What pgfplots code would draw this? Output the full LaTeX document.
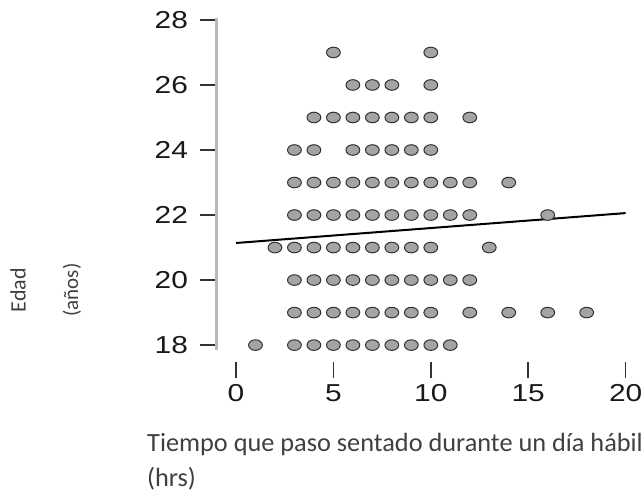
\documentclass[border=0pt]{standalone}
\usepackage{pgfplots}
\pgfplotsset{compat=1.18}
\usepackage{fontspec}
\usepackage{graphicx}
\setmainfont{Liberation Sans}
\newfontfamily\calib{Carlito}
\definecolor{dotfill}{HTML}{A4A4A4}
\definecolor{dotdraw}{HTML}{333333}
\definecolor{axgray}{HTML}{B8B8B8}
\definecolor{txt}{HTML}{404040}
\newcommand{\tl}[1]{\scalebox{1.22}[1]{#1}}
\begin{document}
\begin{tikzpicture}
\useasboundingbox (-216.5bp,-135bp) rectangle (425.5bp,362bp);
\begin{axis}[
  at={(0,0)}, anchor=south west,
  scale only axis, width=415bp, height=344bp,
  xmin=-1, xmax=20.3, ymin=17.48, ymax=28.06,
  axis line style={draw=none},
  axis x line*=bottom, axis y line*=left,
  xtick={0,5,10,15,20}, ytick={18,20,22,24,26,28},
  xticklabels={\tl{0},\tl{5},\tl{10},\tl{15},\tl{20}},
  yticklabels={\tl{18},\tl{20},\tl{22},\tl{24},\tl{26},\tl{28}},
  tick align=outside,
  major tick length=16bp,
  tick style={draw=black!80, line width=1.6bp},
  ticklabel style={font=\fontsize{24.5bp}{24.5bp}\selectfont, text=black!90},
  xticklabel style={yshift=-3bp},
  yticklabel style={xshift=-9bp},
  clip=false,
]
\addplot[only marks, mark=*, mark size=5.3bp,
  mark options={xscale=1.3, fill=dotfill, draw=dotdraw, line width=1bp}]
coordinates {
(1,18) (3,18) (4,18) (5,18) (6,18) (7,18) (8,18) (9,18) (10,18) (11,18)
(3,19) (4,19) (5,19) (6,19) (7,19) (8,19) (9,19) (10,19) (12,19) (14,19) (16,19) (18,19)
(3,20) (4,20) (5,20) (6,20) (7,20) (8,20) (9,20) (10,20) (11,20) (12,20)
(2,21) (3,21) (4,21) (5,21) (6,21) (7,21) (8,21) (9,21) (10,21) (13,21)
(3,22) (4,22) (5,22) (6,22) (7,22) (8,22) (9,22) (10,22) (11,22) (12,22) (16,22)
(3,23) (4,23) (5,23) (6,23) (7,23) (8,23) (9,23) (10,23) (11,23) (12,23) (14,23)
(3,24) (4,24) (6,24) (7,24) (8,24) (9,24) (10,24)
(4,25) (5,25) (6,25) (7,25) (8,25) (9,25) (10,25) (12,25)
(6,26) (7,26) (8,26) (10,26)
(5,27) (10,27)
};
\addplot[black, line width=2bp] coordinates {(0,21.14) (20,22.06)};
\draw[axgray, line width=2.5bp] (axis cs:-1,17.85) -- (axis cs:-1,28.06);
\end{axis}
\node[anchor=base west, text=txt, font=\calib\fontsize{26.3bp}{26.3bp}\selectfont, inner sep=0pt]
  at (-69.5bp,-89bp) {Tiempo que paso sentado durante un día hábil};
\node[anchor=base west, text=txt, font=\calib\fontsize{26.3bp}{26.3bp}\selectfont, inner sep=0pt]
  at (-69.5bp,-124bp) {(hrs)};
\node[rotate=90, text=txt, font=\calib\fontsize{22bp}{22bp}\selectfont, inner sep=0pt]
  at (-198.5bp,72bp) {Edad};
\node[rotate=90, text=txt, font=\calib\fontsize{21bp}{21bp}\selectfont, inner sep=0pt]
  at (-144.5bp,72bp) {(años)};
\end{tikzpicture}
\end{document}
